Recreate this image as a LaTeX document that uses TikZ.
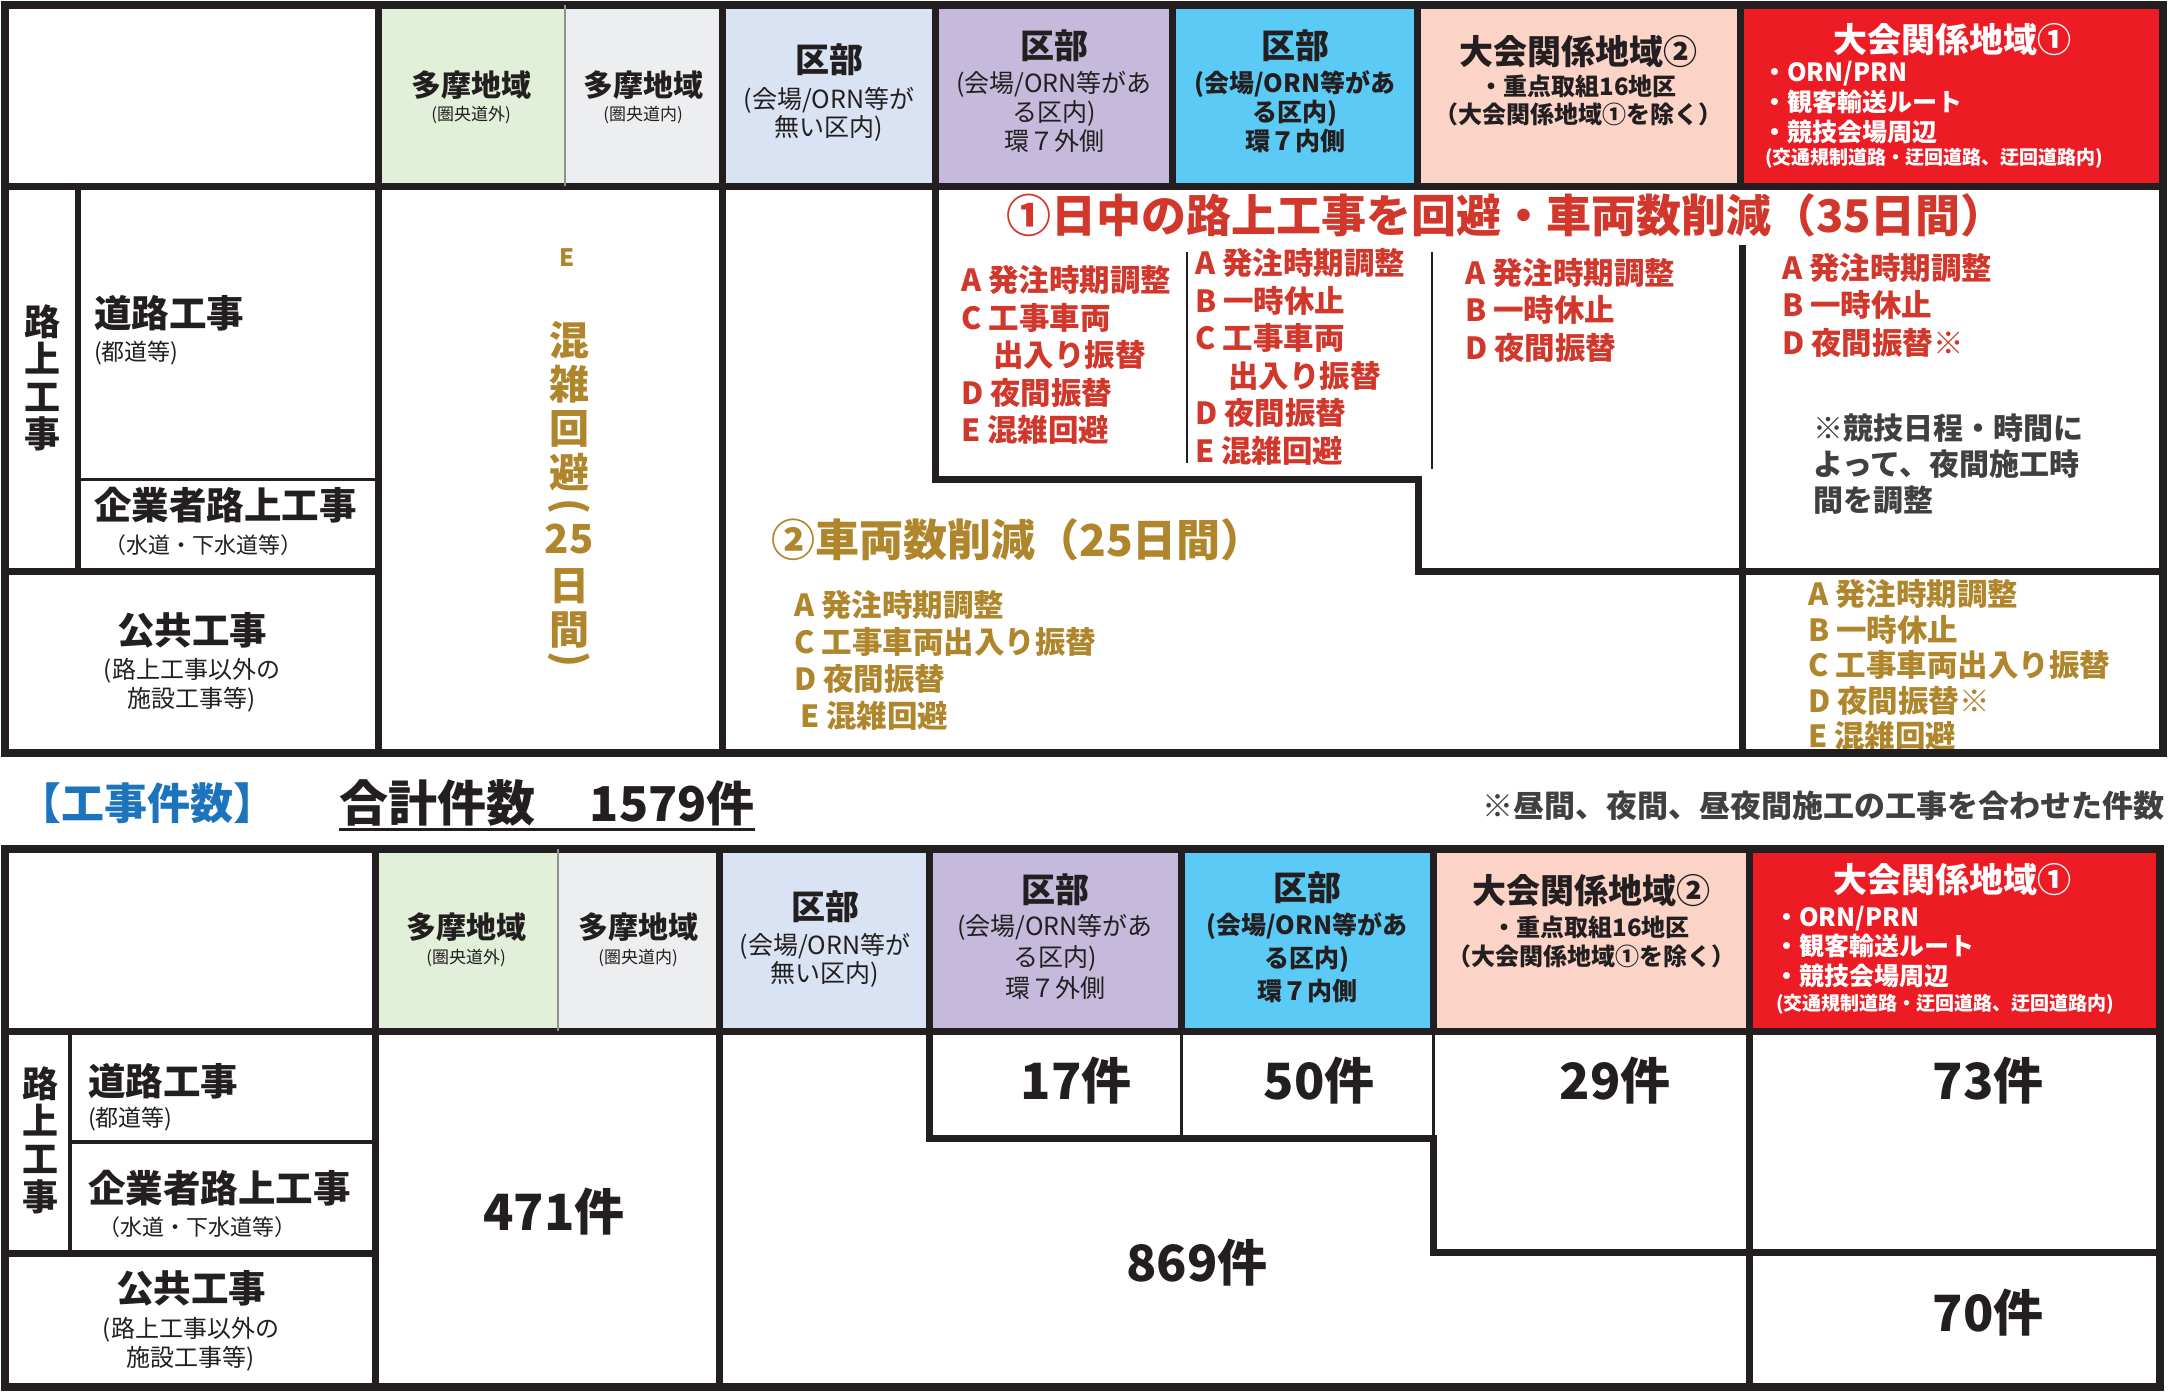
\documentclass[tikz,border=0pt]{standalone}
\usepackage{fontspec}
\setmainfont{Noto Sans CJK JP}
\definecolor{cline}{HTML}{231F20}
\definecolor{cred}{HTML}{D2372B}
\definecolor{cgold}{HTML}{B0862C}
\definecolor{cnote}{HTML}{404040}
\definecolor{cblue}{HTML}{1C75BC}
\definecolor{ftamaa}{HTML}{E2EFD9}
\definecolor{ftamab}{HTML}{EDEEF0}
\definecolor{fkua}{HTML}{DAE3F3}
\definecolor{fkub}{HTML}{C5BADC}
\definecolor{fkuc}{HTML}{5BCBF5}
\definecolor{fzoneb}{HTML}{FBD4C7}
\definecolor{fzonea}{HTML}{ED1C24}
\newcommand\fsz[2]{\fontsize{#1pt}{#2pt}\selectfont}
\begin{document}
\begin{tikzpicture}[x=1pt,y=-1pt,
  bl/.style={draw=cline,line width=7pt,line cap=rect},
  ol/.style={draw=cline,line width=8pt},
  tl/.style={draw=cline,line width=3pt},
  sl/.style={draw=cline!50,line width=2pt},
  tx/.style={inner sep=0pt,text=cline},
  hbig/.style={tx,font=\bfseries\fsz{34}{40}},
  htama/.style={tx,font=\bfseries\fsz{30}{34}},
  hsmall/.style={tx,font=\fsz{17}{20}},
  hsubr/.style={tx,align=center,font=\fsz{25}{29}},
  hsubb/.style={tx,align=center,font=\bfseries\fsz{25}{29}},
  rowbig/.style={tx,font=\bfseries\fsz{37.5}{37.5}},
  rowsub/.style={tx,font=\fsz{23}{29}},
  redlist/.style={tx,text=cred,align=left,font=\bfseries\fsz{30.5}{37.5}},
  goldlist/.style={tx,text=cgold,align=left,font=\bfseries\fsz{30.5}{37}},
  vcol/.style={tx,text=cgold,font=\bfseries\fsz{40}{44}},
  num/.style={tx,font=\bfseries\fsz{50}{56}}
]
\path[use as bounding box,fill=white] (0,0) rectangle (2169,1393);

% ===== top table fills =====
\fill[ftamaa] (378,5) rectangle (565,186);
\fill[ftamab] (565,5) rectangle (722,186);
\fill[fkua] (722,5) rectangle (935,186);
\fill[fkub] (935,5) rectangle (1172,186);
\fill[fkuc] (1172,5) rectangle (1417,186);
\fill[fzoneb] (1417,5) rectangle (1740,186);
\fill[fzonea] (1740,5) rectangle (2163,186);

% ===== bottom table fills =====
\fill[ftamaa] (375,849) rectangle (558,1031);
\fill[ftamab] (558,849) rectangle (719,1031);
\fill[fkua] (719,849) rectangle (929,1031);
\fill[fkub] (929,849) rectangle (1181,1031);
\fill[fkuc] (1181,849) rectangle (1433,1031);
\fill[fzoneb] (1433,849) rectangle (1749,1031);
\fill[fzonea] (1749,849) rectangle (2160,1031);

% ===== top header texts =====
\node[htama] (ta1) at (471,85) {多摩地域};
\node[hsmall] (ta2) at (471,115) {(圏央道外)};
\node[htama] (tb1) at (643,85) {多摩地域};
\node[hsmall] (tb2) at (643,115) {(圏央道内)};
\node[hbig] (tc1) at (829,60) {区部};
\node[hsubr,font=\fsz{25}{28}] (tc2) at (829,114) {(会場/ORN等が\\無い区内)};
\node[hbig] (td1) at (1054,46) {区部};
\node[hsubr] (td2) at (1054,112) {(会場/ORN等があ\\る区内)\\環７外側};
\node[hbig] (te1) at (1295,46) {区部};
\node[hsubb] (te2) at (1295,112) {(会場/ORN等があ\\る区内)\\環７内側};
\node[hbig] (tf1) at (1578,52) {大会関係地域②};
\node[hsubb,font=\bfseries\fsz{24}{28}] (tf2) at (1578,100) {・重点取組16地区\\（大会関係地域①を除く）};
\node[hbig,text=white] (tg1) at (1952,40) {大会関係地域①};
\node[tx,text=white,align=left,anchor=west,font=\bfseries\fsz{25}{30}] (tg2) at (1762,103) {・ORN/PRN\\・観客輸送ルート\\・競技会場周辺};
\node[tx,text=white,anchor=west,font=\bfseries\fsz{19}{22}] (tg3) at (1765,158) {(交通規制道路・迂回道路、迂回道路内)};

% ===== top row headers =====
\node[rowbig,align=center,font=\bfseries\fsz{36}{37.5}] (tr1) at (42,378) {路\\上\\工\\事};
\node[rowbig,anchor=west] (tr2) at (94,313) {道路工事};
\node[rowsub,anchor=west] (tr3) at (94,353) {(都道等)};
\node[rowbig,anchor=west] (tr4) at (94,505) {企業者路上工事};
\node[rowsub,anchor=west,font=\fsz{22}{26}] (tr5) at (104,545) {（水道・下水道等）};
\node[rowbig] (tr6) at (192,630) {公共工事};
\node[rowsub,align=center,font=\fsz{24}{29}] (tr7) at (192,685) {(路上工事以外の\\施設工事等)};

% ===== E column =====
\node[tx,text=cgold,font=\bfseries\fsz{24}{28}] (ecol) at (567,258) {E};
\node[vcol] (v1) at (569,340) {混};
\node[vcol] (v2) at (569,384) {雑};
\node[vcol] (v3) at (569,429) {回};
\node[vcol] (v4) at (569,472) {避};
\node[vcol,rotate=-90] (v5) at (569,506) {(};
\node[vcol] (v6) at (569,539) {25};
\node[vcol] (v7) at (569,586) {日};
\node[vcol] (v8) at (569,630) {間};
\node[vcol,rotate=-90] (v9) at (569,659) {)};

% ===== measure 1 (red) =====
\node[tx,text=cred,font=\bfseries\fsz{45}{50}] (m1t) at (1506,215) {①日中の路上工事を回避・車両数削減（35日間）};
\node[redlist,anchor=west] (m1a) at (961,355) {A 発注時期調整\\C 工事車両\\\hspace*{32pt}出入り振替\\D 夜間振替\\E 混雑回避};
\node[redlist,anchor=west] (m1b) at (1195,357) {A 発注時期調整\\B 一時休止\\C 工事車両\\\hspace*{33pt}出入り振替\\D 夜間振替\\E 混雑回避};
\node[redlist,anchor=west] (m1c) at (1465,310) {A 発注時期調整\\B 一時休止\\D 夜間振替};
\node[redlist,anchor=west] (m1d) at (1782,305) {A 発注時期調整\\B 一時休止\\D 夜間振替※};
\node[tx,text=cnote,align=left,anchor=west,font=\bfseries\fsz{30}{36}] (m1n) at (1813,464) {※競技日程・時間に\\よって、夜間施工時\\間を調整};

% ===== measure 2 (gold) =====
\node[tx,text=cgold,anchor=west,font=\bfseries\fsz{44}{48}] (m2t) at (771,540) {②車両数削減（25日間）};
\node[goldlist,anchor=west] (m2a) at (794,660) {A 発注時期調整\\C 工事車両出入り振替\\D 夜間振替\\\hspace*{6pt}E 混雑回避};
\node[goldlist,anchor=west,font=\bfseries\fsz{30.5}{35.5}] (m2b) at (1808,665) {A 発注時期調整\\B 一時休止\\C 工事車両出入り振替\\D 夜間振替※\\E 混雑回避};

% ===== top table lines =====
\draw[ol] (5,5) rectangle (2163,753);
\draw[bl] (5,186) -- (2163,186);
\draw[bl] (378,5) -- (378,753);
\draw[bl] (722,5) -- (722,753);
\draw[bl] (1172,5) -- (1172,186);
\draw[bl] (1417,5) -- (1417,186);
\draw[bl] (1740,5) -- (1740,186);
\draw[sl] (565,5) -- (565,186);
\draw[bl,line width=6pt] (78,186) -- (78,571);
\draw[tl] (78,479) -- (378,479);
\draw[bl] (5,571) -- (378,571);
\draw[bl] (935,5) -- (935,479) -- (1418,479) -- (1418,571) -- (2163,571);
\draw[bl] (1742,248) -- (1742,753);
\draw[draw=cline,line width=2pt] (1187,252) -- (1187,463);
\draw[draw=cline,line width=2pt] (1432,252) -- (1432,469);

% ===== middle =====
\node[tx,text=cblue,anchor=west,font=\bfseries\fsz{43}{46}] (k1) at (18,803) {【工事件数】};
\node[tx,anchor=west,font=\bfseries\fsz{49}{52}] (k2) at (339,803) {合計件数};
\node[tx,anchor=east,font=\bfseries\fsz{48}{52}] (k3) at (755,803) {1579件};
\draw[draw=cline,line width=3pt] (339,829) -- (755,829);
\node[tx,text=cnote,anchor=east,font=\bfseries\fsz{31}{34}] (k4) at (2165,806) {※昼間、夜間、昼夜間施工の工事を合わせた件数};

% ===== bottom header texts =====
\node[htama] (ba1) at (466,927) {多摩地域};
\node[hsmall] (ba2) at (466,958) {(圏央道外)};
\node[htama] (bb1) at (638,927) {多摩地域};
\node[hsmall] (bb2) at (638,958) {(圏央道内)};
\node[hbig] (bc1) at (825,907) {区部};
\node[hsubr,font=\fsz{25}{28}] (bc2) at (825,960) {(会場/ORN等が\\無い区内)};
\node[hbig] (bd1) at (1055,890) {区部};
\node[hsubr,font=\fsz{25}{31}] (bd2) at (1055,957) {(会場/ORN等があ\\る区内)\\環７外側};
\node[hbig] (be1) at (1307,888) {区部};
\node[hsubb,font=\bfseries\fsz{25}{33}] (be2) at (1307,958) {(会場/ORN等があ\\る区内)\\環７内側};
\node[hbig] (bf1) at (1591,891) {大会関係地域②};
\node[hsubb,font=\bfseries\fsz{24}{29}] (bf2) at (1591,942) {・重点取組16地区\\（大会関係地域①を除く）};
\node[hbig,text=white] (bg1) at (1952,880) {大会関係地域①};
\node[tx,text=white,align=left,anchor=west,font=\bfseries\fsz{25}{29.5}] (bg2) at (1774,947) {・ORN/PRN\\・観客輸送ルート\\・競技会場周辺};
\node[tx,text=white,anchor=west,font=\bfseries\fsz{19}{22}] (bg3) at (1776,1004) {(交通規制道路・迂回道路、迂回道路内)};

% ===== bottom row headers =====
\node[rowbig,align=center,font=\bfseries\fsz{36}{37.7}] (br1) at (40,1140) {路\\上\\工\\事};
\node[rowbig,anchor=west] (br2) at (88,1081) {道路工事};
\node[rowsub,anchor=west] (br3) at (88,1119) {(都道等)};
\node[rowbig,anchor=west] (br4) at (88,1188) {企業者路上工事};
\node[rowsub,anchor=west,font=\fsz{22}{26}] (br5) at (98,1227) {（水道・下水道等）};
\node[rowbig] (br6) at (191,1288) {公共工事};
\node[rowsub,align=center,font=\fsz{24}{29}] (br7) at (191,1344) {(路上工事以外の\\施設工事等)};

% ===== numbers =====
\node[num] (n471) at (554,1212) {471件};
\node[num] (n17) at (1076,1081) {17件};
\node[num] (n50) at (1319,1081) {50件};
\node[num] (n29) at (1615,1081) {29件};
\node[num] (n73) at (1988,1081) {73件};
\node[num] (n869) at (1197,1263) {869件};
\node[num] (n70) at (1988,1313) {70件};

% ===== bottom table lines =====
\draw[ol] (5,849) rectangle (2160,1387);
\draw[bl] (5,1031) -- (2160,1031);
\draw[bl] (375,849) -- (375,1387);
\draw[bl] (719,849) -- (719,1387);
\draw[bl] (929,849) -- (929,1138) -- (1433,1138);
\draw[bl] (1181,849) -- (1181,1031);
\draw[tl] (1181,1031) -- (1181,1138);
\draw[bl] (1433,849) -- (1433,1031);
\draw[tl] (1433,1031) -- (1433,1138);
\draw[bl] (1433,1138) -- (1433,1252) -- (2160,1252);
\draw[bl] (1749,849) -- (1749,1387);
\draw[sl] (558,849) -- (558,1031);
\draw[draw=cline,line width=4pt] (70,1031) -- (70,1253);
\draw[draw=cline,line width=4pt] (70,1142) -- (375,1142);
\draw[bl] (5,1253) -- (375,1253);
\end{tikzpicture}
\end{document}
